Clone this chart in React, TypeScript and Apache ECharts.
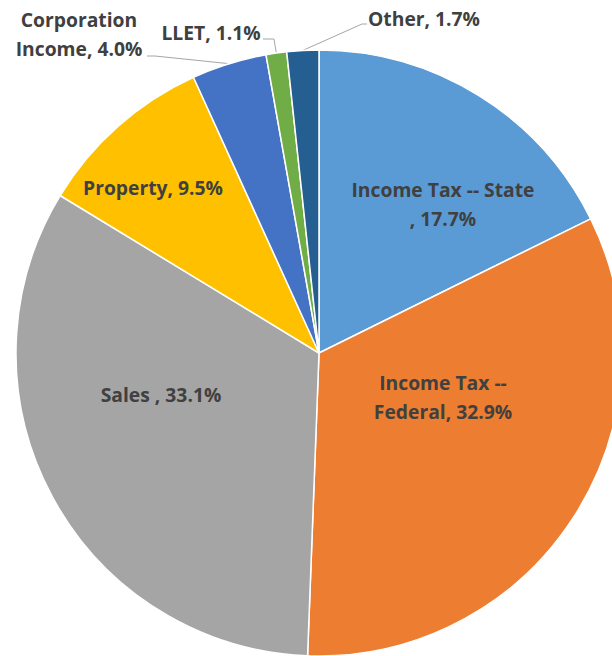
import React, { useEffect, useRef } from "react";
import * as echarts from "echarts";

const categories = [
  "Income Tax -- State\n",
  "Income Tax --\nFederal",
  "Sales ",
  "Property",
  "Corporation\nIncome",
  "LLET",
  "Other",
];
const values = [17.7, 32.9, 33.1, 9.5, 4.0, 1.1, 1.7];
const colors = ["#5B9BD5", "#ED7D31", "#A5A5A5", "#FFC000", "#4472C4", "#70AD47", "#255E91"];
const insideLabel = [true, true, true, true, false, false, false];

// label layout: centre of each label block, and bend/end of leader lines
const labelCenters: number[][] = [
  [443, 204],
  [443, 397],
  [161, 394],
  [153, 187],
  [79, 34],
  [211, 32],
  [424, 18],
];
const leaderEnds: (number[][] | null)[] = [
  null,
  null,
  null,
  null,
  [[155, 56], [147, 56]],
  [[274, 39], [263, 39]],
  [[362, 24], [367, 24]],
];

export default function App() {
  const ref = useRef<HTMLDivElement>(null);
  useEffect(() => {
    if (!ref.current) return;
    const chart = echarts.init(ref.current, undefined, { renderer: "svg" });
    const data = categories.map((name, i) => ({
      name,
      value: values[i],
      itemStyle: { color: colors[i] },
      label: { position: insideLabel[i] ? "inside" : "outside" },
      labelLine: { show: !insideLabel[i] },
    }));
    chart.setOption({
      animation: false,
      series: [
        {
          type: "pie",
          center: [319, 353],
          radius: 303,
          startAngle: 90,
          clockwise: true,
          avoidLabelOverlap: false,
          data,
          itemStyle: { borderColor: "#ffffff", borderWidth: 1.5 },
          label: {
            show: true,
            formatter: (p: any) => `${p.name}, ${Number(p.value).toFixed(1)}%`,
            color: "#404040",
            fontFamily: "Open Sans",
            fontWeight: "bold",
            fontSize: 19.3,
            lineHeight: 29,
            align: "center",
          },
          labelLine: {
            show: true,
            length: 10,
            length2: 10,
            lineStyle: { color: "#A6A6A6", width: 1 },
          },
          labelLayout: (params: any) => {
            const i = params.dataIndex;
            const c = labelCenters[i];
            const out: any = {
              x: c[0],
              y: c[1],
              align: "center",
              verticalAlign: "middle",
            };
            const le = leaderEnds[i];
            if (le && params.labelLinePoints && params.labelLinePoints[0]) {
              out.labelLinePoints = [params.labelLinePoints[0], le[0], le[1]];
            }
            return out;
          },
        },
      ],
    });
    return () => chart.dispose();
  }, []);
  return (
    <div
      ref={ref}
      style={{ position: "fixed", left: 0, top: 0, width: 612, height: 656, background: "#ffffff" }}
    />
  );
}
